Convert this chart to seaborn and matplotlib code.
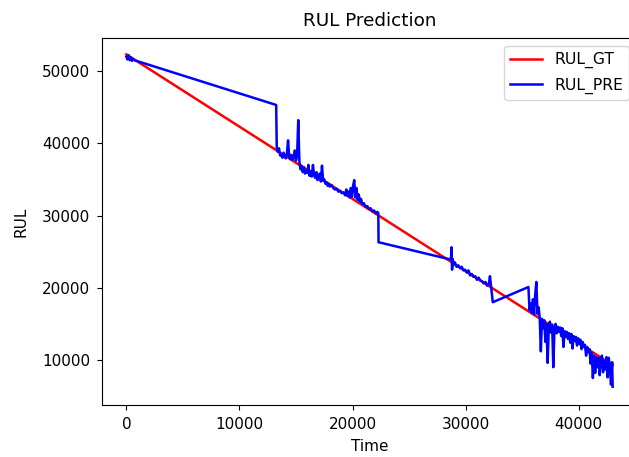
import matplotlib
matplotlib.use("Agg")
import matplotlib.pyplot as plt
import seaborn as sns
import pandas as pd

# Ground truth RUL (straight line)
time_gt = [0, 10000, 20000, 30000, 43000]
rul_gt = [52300, 42300, 32300, 22300, 9300]

# Predicted RUL
time_pre = [
    0, 100, 200, 300, 400, 500, 600, 700,
    13250, 13300, 13400, 13500, 13600, 13700, 13800, 13900, 14000, 14100,
    14200, 14300, 14400, 14500, 14600, 14700, 14800, 14900, 15000, 15100,
    15200, 15300, 15400, 15500, 15600, 15700, 15800, 15900, 16000, 16100,
    16200, 16300, 16400, 16500, 16600, 16700, 16800, 16900, 17000, 17100,
    17200, 17300, 17400, 17500, 17600, 17700, 17800, 17900, 18000, 18150,
    18300, 18450, 18600, 18750, 18900, 19050, 19200, 19350, 19450, 19550,
    19650, 19750, 19850, 19950, 20050, 20150, 20250, 20350, 20450, 20550,
    20650, 20750, 20850, 21000, 21150, 21300, 21450, 21600, 21750, 21900,
    22050, 22200, 22280, 22300,
    28700, 28750, 28800, 28850, 28950, 29050, 29200, 29350, 29500, 29650,
    29800, 29950, 30100, 30250, 30400, 30550, 30700, 30850, 31000, 31150,
    31300, 31450, 31600, 31750, 31900, 32050, 32150, 32250, 32400,
    35550, 35650, 35750, 35850, 35950, 36050, 36150, 36250, 36350, 36450,
    36550, 36650, 36750, 36850, 36950, 37050, 37150, 37250, 37350, 37450,
    37550, 37650, 37750, 37850, 37950, 38050, 38150, 38250, 38350, 38450,
    38550, 38650, 38750, 38850, 38950, 39050, 39150, 39250, 39350, 39450,
    39550, 39650, 39750, 39850, 39950, 40050, 40150, 40250, 40350, 40450,
    40550, 40650, 40750, 40850, 40950, 41050, 41150, 41250, 41350, 41450,
    41550, 41650, 41750, 41850, 41950, 42050, 42150, 42250, 42350, 42450,
    42550, 42650, 42750, 42850, 42950, 43000,
]
rul_pre = [
    52000, 51600, 52200, 51500, 51900, 51400, 51700, 51500,
    45300, 39400, 38800, 39300, 38300, 38500, 38000, 38700, 38200, 37900,
    38600, 40400, 38100, 37800, 38400, 37700, 38000, 39000, 37600, 38300,
    43200, 37500, 36400, 36900, 36000, 36700, 35800, 36200, 35900, 37000,
    35500, 36100, 35400, 37000, 35600, 35200, 36000, 34900, 35400, 35800,
    34700, 36900, 34800, 35000, 34400, 34600, 34100, 34400, 34000, 34200,
    33800, 33600, 33700, 33300, 33400, 33100, 33200, 32800, 33600, 32700,
    33300, 32500, 33800, 32600, 34100, 34900, 32500, 33800, 32200, 32900,
    31900, 32300, 31600, 31700, 31200, 31300, 30900, 31000, 30600, 30700,
    30300, 30500, 30300, 26300,
    23900, 25600, 22500, 24000, 23200, 23500, 22900, 23100, 22700, 22900,
    22400, 22500, 22100, 22400, 21700, 21900, 21500, 21600, 21100, 21400,
    21000, 20900, 20600, 20800, 20300, 20500, 21600, 20200, 18000,
    20100, 16900, 17800, 16500, 18400, 16300, 19000, 20800, 16400, 17300,
    15800, 11200, 15700, 14400, 15500, 12500, 15000, 9600, 14600, 15300,
    13800, 14900, 9000, 14200, 15000, 13700, 14600, 13900, 14500, 13300,
    14400, 11800, 14000, 13200, 13900, 12900, 13700, 12400, 13600, 11600,
    13300, 12700, 13200, 12000, 13000, 12300, 12800, 11500, 12500, 11800,
    12100, 10600, 11800, 11100, 11500, 9500, 11000, 7500, 10600, 8200,
    10400, 9000, 10300, 7900, 10000, 10600, 8300, 9900, 8700, 10400,
    7600, 10300, 9100, 6600, 9700, 6300,
]

df_gt = pd.DataFrame({"Time": time_gt, "RUL": rul_gt})
df_pre = pd.DataFrame({"Time": time_pre, "RUL": rul_pre})

plt.rcParams["font.size"] = 11
plt.rcParams["font.family"] = ["DejaVu Sans"]

fig = plt.figure(figsize=(6.29, 4.57), dpi=100)
ax = fig.add_axes([102 / 629, 52 / 457, 535 / 629, 367 / 457])

sns.lineplot(data=df_gt, x="Time", y="RUL", color="red", label="RUL_GT",
             estimator=None, sort=False, linewidth=1.8, ax=ax)
sns.lineplot(data=df_pre, x="Time", y="RUL", color="blue", label="RUL_PRE",
             estimator=None, sort=False, linewidth=1.8, ax=ax)

ax.set_xlim(-2150, 45150)
ax.set_ylim(3770, 54570)
ax.set_xticks([0, 10000, 20000, 30000, 40000])
ax.set_yticks([10000, 20000, 30000, 40000, 50000])
ax.tick_params(axis="y", pad=5)
ax.tick_params(axis="x", pad=5)
ax.set_title("RUL Prediction", pad=9)
ax.set_xlabel("Time", labelpad=5)
ax.set_ylabel("RUL", labelpad=10)
ax.legend(loc="upper right", fontsize=11.25, labelspacing=0.6)

fig.savefig("out.png", dpi=100)
